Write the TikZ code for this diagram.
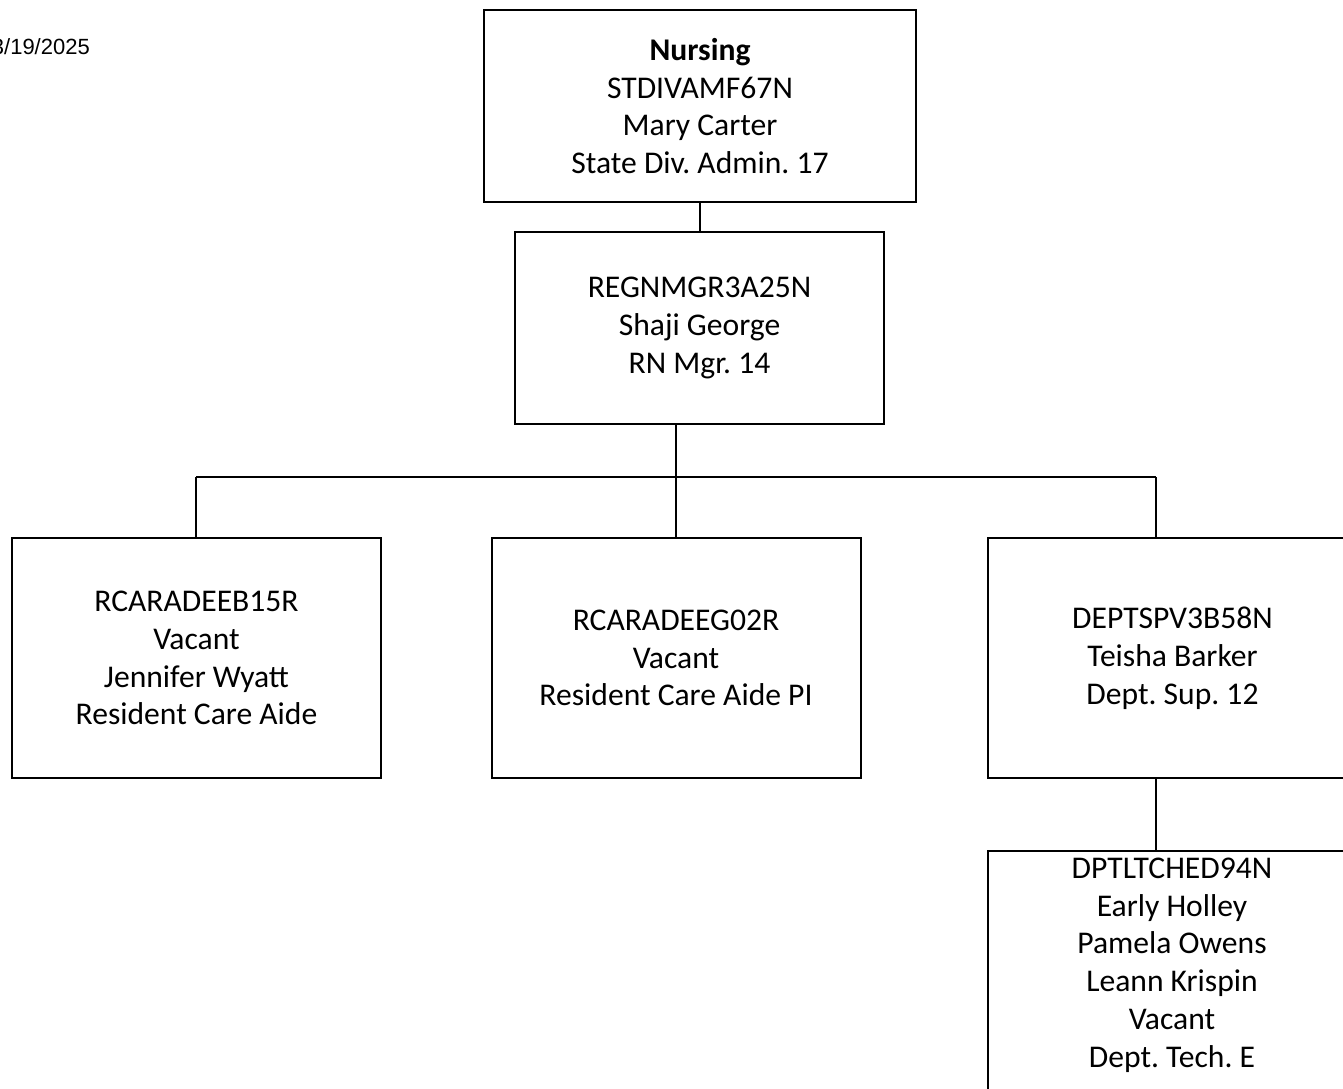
\documentclass[tikz,border=0pt]{standalone}
\usepackage{fontspec}
\setmainfont{Carlito}
\newfontfamily\datefont{Liberation Sans}
\frenchspacing
\tikzset{
  orgbox/.style={draw=black, line width=2pt, rectangle, inner sep=0pt, align=center,
    font=\fontsize{31.6}{37.8}\selectfont},
  link/.style={draw=black, line width=2pt},
  txt/.style={inner sep=0pt, align=center, font=\fontsize{31.6}{37.8}\selectfont}
}
\begin{document}
\begin{tikzpicture}[x=1pt,y=-1pt]
\useasboundingbox (0,0) rectangle (1343,1088);
\clip (0,0) rectangle (1343,1088);
\fill[white] (0,0) rectangle (1343,1088);
\node[anchor=base east, inner sep=0pt, font=\datefont\fontsize{22}{26}\selectfont] (date) at (90,54) {3/19/2025};
\node[orgbox, minimum width=432pt, minimum height=192pt] (top) at (700,106) {\textbf{Nursing}\\STDIVAMF67N\\Mary Carter\\State Div. Admin. 17};
\node[orgbox, minimum width=369pt, minimum height=192pt] (mgr) at (699.5,328) {REGNMGR3A25N\\Shaji George\\RN Mgr. 14};
\node[orgbox, minimum width=369pt, minimum height=240pt] (left) at (196.5,658) {RCARADEEB15R\\Vacant\\Jennifer Wyatt\\Resident Care Aide};
\node[orgbox, minimum width=369pt, minimum height=240pt] (mid) at (676,658) {RCARADEEG02R\\Vacant\\Resident Care Aide PI};
\node[orgbox, minimum width=369pt, minimum height=240pt] (right) at (1172.5,658) {DEPTSPV3B58N\\Teisha Barker\\Dept. Sup. 12};
\node[orgbox, minimum width=369pt, minimum height=300pt, anchor=north] (tech) at (1172.5,850) {};
\node[txt] (techtxt) at (1172,965) {DPTLTCHED94N\\Early Holley\\Pamela Owens\\Leann Krispin\\Vacant\\Dept. Tech. E};
\coordinate (bus) at (676,477);
\coordinate (lj) at (196,477);
\coordinate (rj) at (1156,477);
\draw[link] (top.south) -- (top.south |- mgr.north);
\draw[link] (bus |- mgr.south) -- (bus);
\draw[link] (lj) -- (rj);
\draw[link] (lj) -- (lj |- left.north);
\draw[link] (bus) -- (bus |- mid.north);
\draw[link] (rj) -- (rj |- right.north);
\draw[link] (rj |- right.south) -- (rj |- tech.north);
\end{tikzpicture}
\end{document}
